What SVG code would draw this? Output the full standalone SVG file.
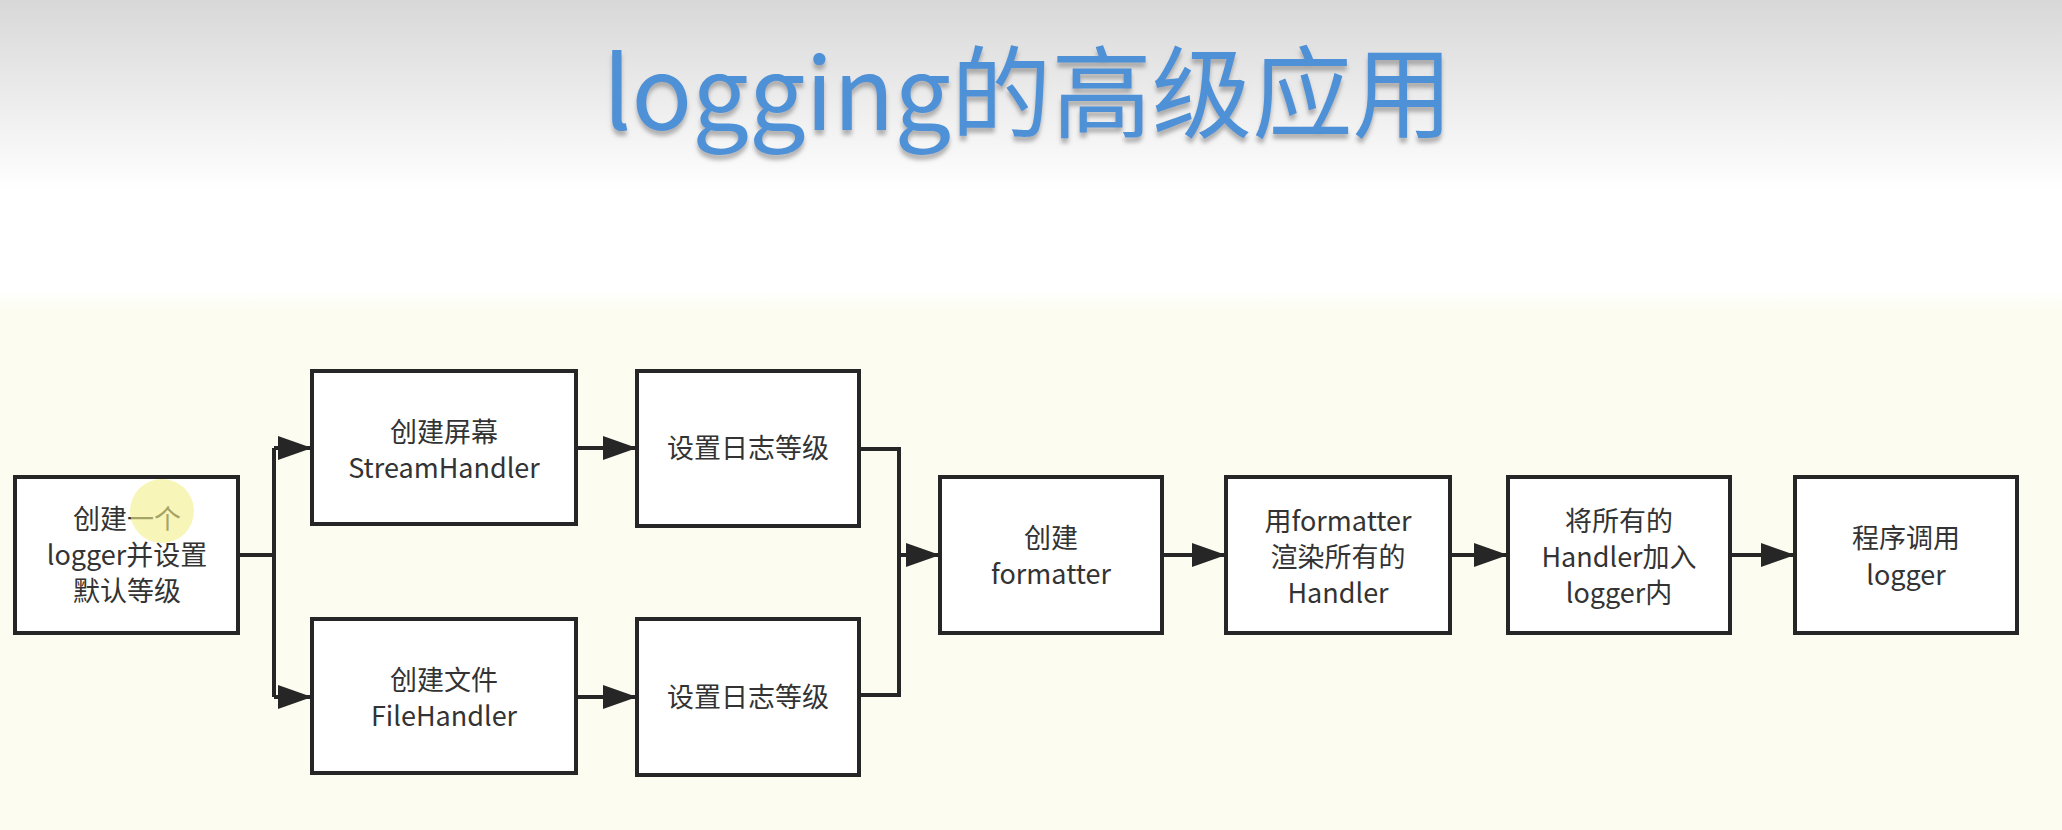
<svg xmlns="http://www.w3.org/2000/svg" width="2062" height="830" viewBox="0 0 2062 830">
  <defs>
    <linearGradient id="bg" gradientUnits="userSpaceOnUse" x1="0" y1="0" x2="0" y2="830">
      <stop offset="0" stop-color="#d8d8d8"/>
      <stop offset="0.23" stop-color="#ffffff"/>
      <stop offset="0.35" stop-color="#ffffff"/>
      <stop offset="0.375" stop-color="#fcfcf1"/>
      <stop offset="1" stop-color="#fcfcf1"/>
    </linearGradient>
    <filter id="shadow" x="-10%" y="-20%" width="120%" height="150%">
      <feDropShadow dx="0" dy="5" stdDeviation="2" flood-color="#777" flood-opacity="0.55"/>
    </filter>
    <marker id="arrow" markerUnits="userSpaceOnUse" markerWidth="36" markerHeight="26" refX="34" refY="12" orient="auto">
      <path d="M0,0 L34,12 L0,24 Z" fill="#262626"/>
    </marker>
    <style>
      .box { fill: #ffffff; stroke: #262626; stroke-width: 4; }
      .lbl { font-family: "Microsoft YaHei", "Noto Sans CJK SC", "Noto Sans", sans-serif; font-size: 27px; fill: #333333; text-anchor: middle; }
      .conn { fill: none; stroke: #262626; stroke-width: 4; }
      .title { font-family: "Microsoft YaHei", "Noto Sans CJK SC", "Noto Sans", sans-serif; font-size: 100px; fill: #4f91d6; }
    </style>
  </defs>

  <rect x="0" y="0" width="2062" height="830" fill="url(#bg)"/>

  <text class="title" x="603" y="130" textLength="850" lengthAdjust="spacingAndGlyphs" filter="url(#shadow)">logging的高级应用</text>

  <g id="connectors">
    <path class="conn" d="M238,555 H274 M274,448 V697"/>
    <path class="conn" d="M274,448 H312" marker-end="url(#arrow)"/>
    <path class="conn" d="M274,697 H312" marker-end="url(#arrow)"/>
    <path class="conn" d="M576,448 H637" marker-end="url(#arrow)"/>
    <path class="conn" d="M576,697 H637" marker-end="url(#arrow)"/>
    <path class="conn" d="M859,449 H899 V695 H859"/>
    <path class="conn" d="M899,555 H940" marker-end="url(#arrow)"/>
    <path class="conn" d="M1162,555 H1226" marker-end="url(#arrow)"/>
    <path class="conn" d="M1450,555 H1508" marker-end="url(#arrow)"/>
    <path class="conn" d="M1730,555 H1795" marker-end="url(#arrow)"/>
  </g>

  <g id="node-logger">
    <rect class="box" x="15" y="477" width="223" height="156"/>
    <text class="lbl" x="127" y="529">创建一个</text>
    <text class="lbl" x="127" y="565">logger并设置</text>
    <text class="lbl" x="127" y="601">默认等级</text>
  </g>

  <g id="node-stream">
    <rect class="box" x="312" y="371" width="264" height="153"/>
    <text class="lbl" x="444" y="442">创建屏幕</text>
    <text class="lbl" x="444" y="478">StreamHandler</text>
  </g>

  <g id="node-file">
    <rect class="box" x="312" y="619" width="264" height="154"/>
    <text class="lbl" x="444" y="690">创建文件</text>
    <text class="lbl" x="444" y="726">FileHandler</text>
  </g>

  <g id="node-level1">
    <rect class="box" x="637" y="371" width="222" height="155"/>
    <text class="lbl" x="748" y="458">设置日志等级</text>
  </g>

  <g id="node-level2">
    <rect class="box" x="637" y="619" width="222" height="156"/>
    <text class="lbl" x="748" y="707">设置日志等级</text>
  </g>

  <g id="node-formatter">
    <rect class="box" x="940" y="477" width="222" height="156"/>
    <text class="lbl" x="1051" y="548">创建</text>
    <text class="lbl" x="1051" y="584">formatter</text>
  </g>

  <g id="node-render">
    <rect class="box" x="1226" y="477" width="224" height="156"/>
    <text class="lbl" x="1338" y="531">用formatter</text>
    <text class="lbl" x="1338" y="567">渲染所有的</text>
    <text class="lbl" x="1338" y="603">Handler</text>
  </g>

  <g id="node-add">
    <rect class="box" x="1508" y="477" width="222" height="156"/>
    <text class="lbl" x="1619" y="531">将所有的</text>
    <text class="lbl" x="1619" y="567">Handler加入</text>
    <text class="lbl" x="1619" y="603">logger内</text>
  </g>

  <g id="node-call">
    <rect class="box" x="1795" y="477" width="222" height="156"/>
    <text class="lbl" x="1906" y="548">程序调用</text>
    <text class="lbl" x="1906" y="585">logger</text>
  </g>

  <circle cx="162" cy="511" r="32" fill="#f3ee8a" fill-opacity="0.6"/>
</svg>
